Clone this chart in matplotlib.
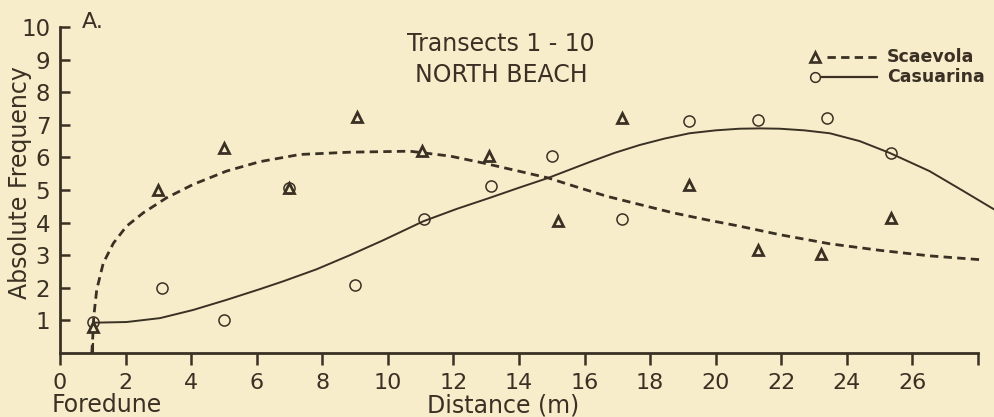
import matplotlib
matplotlib.use("Agg")
import matplotlib.pyplot as plt
from matplotlib.lines import Line2D

# ---------------- data ----------------
scaevola_x = [1.0, 3.0, 5.0, 7.0, 9.05, 11.05, 13.1, 15.2, 17.15, 19.2, 21.3, 23.2, 25.35]
scaevola_y = [0.8, 5.0, 6.3, 5.05, 7.25, 6.2, 6.05, 4.05, 7.2, 5.15, 3.15, 3.05, 4.15]

casuarina_x = [1.0, 3.1, 5.0, 7.0, 9.0, 11.1, 13.15, 15.0, 17.15, 19.2, 21.3, 23.4, 25.35]
casuarina_y = [0.95, 2.0, 1.0, 5.05, 2.1, 4.12, 5.12, 6.05, 4.1, 7.12, 7.15, 7.22, 6.13]

# fitted curves as drawn in the figure
scaevola_curve_x = [0.97, 1.0, 1.03, 1.12, 1.32, 1.63, 2.03, 2.54, 3.25, 4.06, 5.08, 6.1,
                    7.32, 8.84, 10.67, 11.9, 12.9, 13.9, 14.89, 15.8, 16.67, 17.7, 18.7,
                    19.7, 20.73, 21.95, 23.48, 25.0, 26.52, 28.1]
scaevola_curve_y = [0.0, 0.5, 1.12, 1.94, 2.76, 3.37, 3.89, 4.3, 4.76, 5.17, 5.58, 5.87,
                    6.09, 6.16, 6.19, 6.04, 5.83, 5.6, 5.37, 5.08, 4.81, 4.55, 4.3,
                    4.09, 3.89, 3.63, 3.35, 3.15, 2.98, 2.86]

casuarina_curve_x = [1.02, 2.03, 3.05, 4.06, 5.08, 6.1, 6.81, 7.83, 8.84, 9.86, 11.08, 12.1,
                     13.11, 14.0, 14.89, 16.16, 16.92, 17.68, 18.45, 19.2, 20.0, 20.73,
                     21.35, 21.95, 22.7, 23.48, 24.39, 25.3, 26.52, 27.5, 28.5]
casuarina_curve_y = [0.93, 0.95, 1.07, 1.32, 1.63, 1.96, 2.2, 2.57, 3.0, 3.46, 4.04, 4.42,
                     4.76, 5.07, 5.37, 5.86, 6.14, 6.38, 6.58, 6.74, 6.83, 6.88,
                     6.89, 6.88, 6.83, 6.74, 6.5, 6.14, 5.58, 5.0, 4.4]

x_ticks = [0, 2, 4, 6, 8, 10, 12, 14, 16, 18, 20, 22, 24, 26, 28]
x_tick_labels = ['0', '2', '4', '6', '8', '10', '12', '14', '16', '18', '20', '22', '24', '26', '']
y_ticks = [1, 2, 3, 4, 5, 6, 7, 8, 9, 10]
y_tick_labels = ['1', '2', '3', '4', '5', '6', '7', '8', '9', '10']

title_lines = ['Transects 1 - 10', 'NORTH BEACH']
legend_labels = ['Scaevola', 'Casuarina']

# ---------------- style ----------------
BG = '#f8edcb'
INK = '#3a3124'
W, H = 995, 417

plt.rcParams['font.family'] = ['DejaVu Sans']

fig = plt.figure(figsize=(W / 100, H / 100), dpi=100, facecolor=BG)
ax = fig.add_axes([60 / W, 1 - 353 / H, (978 - 60) / W, (353 - 27) / H])
ax.set_facecolor(BG)
ax.set_xlim(0, 28)
ax.set_ylim(0, 10)
for s in ['top', 'right']:
    ax.spines[s].set_visible(False)
for s in ['left', 'bottom']:
    ax.spines[s].set_linewidth(2.0)
    ax.spines[s].set_color(INK)

ax.set_xticks(x_ticks)
ax.set_xticklabels(x_tick_labels)
ax.set_yticks(y_ticks)
ax.set_yticklabels(y_tick_labels)
ax.set_xticks([1], minor=True)
ax.tick_params(axis='x', which='major', direction='out', length=8.5, width=1.8,
               pad=6, labelsize=16, colors=INK)
ax.tick_params(axis='x', which='minor', direction='in', length=7, width=1.5, colors=INK)
ax.tick_params(axis='y', direction='in', length=7, width=1.8, pad=7,
               labelsize=16.5, colors=INK)

# curves
ax.plot(scaevola_curve_x, scaevola_curve_y, ls=(0, (3.0, 1.9)), lw=2.0, color=INK,
        clip_on=False, zorder=3, dash_capstyle='butt', dash_joinstyle='round')
ax.plot(casuarina_curve_x, casuarina_curve_y, ls='-', lw=1.4, color=INK,
        clip_on=False, zorder=3, solid_joinstyle='round')

# points
ax.plot(casuarina_x, casuarina_y, ls='none', marker='o', ms=8, mfc='none', mec=INK,
        mew=1.1, clip_on=False, zorder=4)
ax.plot(scaevola_x, scaevola_y, ls='none', marker='^', ms=7.3, mfc=BG, mec=INK,
        mew=2.0, clip_on=False, zorder=5)


def fx(px):
    return px / W


def fy(py):
    return 1 - py / H


# texts
fig.text(fx(82), fy(22), 'A.', fontsize=16, color=INK, ha='left', va='center')
fig.text(fx(501), fy(44), title_lines[0], fontsize=17, color=INK, ha='center', va='center')
fig.text(fx(501), fy(75), title_lines[1], fontsize=17, color=INK, ha='center', va='center')
fig.text(fx(20), fy(183), 'Absolute Frequency', fontsize=17, color=INK, rotation=90,
         ha='center', va='center')
fig.text(fx(52), fy(405), 'Foredune', fontsize=17, color=INK, ha='left', va='center')
fig.text(fx(503), fy(405), 'Distance (m)', fontsize=17, color=INK, ha='center', va='center')

# legend (drawn manually)
fig.add_artist(Line2D([fx(815)], [fy(56.7)], marker='^', ms=6.5, mfc=BG, mec=INK, mew=1.9,
                      ls='none', transform=fig.transFigure))
fig.add_artist(Line2D([fx(827), fx(877)], [fy(56.7), fy(56.7)], ls=(0, (3.0, 1.9)), lw=2.0,
                      color=INK, transform=fig.transFigure, dash_capstyle='butt'))
fig.text(fx(887), fy(56.7), legend_labels[0], fontsize=12.5, fontweight='bold', color=INK,
         ha='left', va='center')
fig.add_artist(Line2D([fx(815)], [fy(77.3)], marker='o', ms=7, mfc='none', mec=INK, mew=1.1,
                      ls='none', transform=fig.transFigure))
fig.add_artist(Line2D([fx(822), fx(877)], [fy(77.3), fy(77.3)], ls='-', lw=1.6,
                      color=INK, transform=fig.transFigure))
fig.text(fx(887), fy(77.3), legend_labels[1], fontsize=12.5, fontweight='bold', color=INK,
         ha='left', va='center')

fig.savefig('out.png', dpi=100, facecolor=BG)
